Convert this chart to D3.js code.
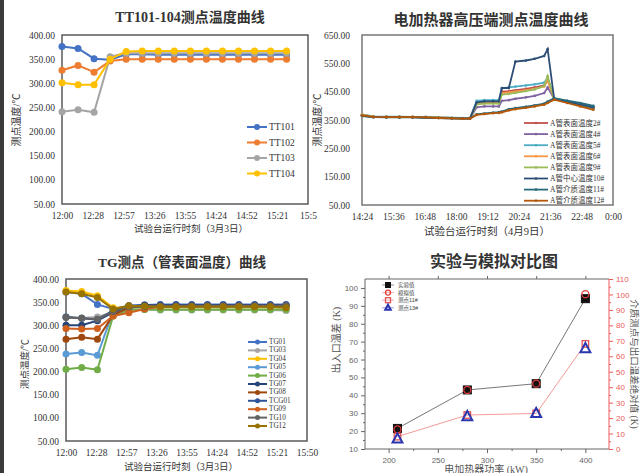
<!DOCTYPE html>
<html>
<head>
<meta charset="utf-8">
<script src="https://cdn.jsdelivr.net/npm/d3@7"></script>
<style>
  body { margin: 0; background: #fff; }
  svg { display: block; }
</style>
</head>
<body>
<svg id="chart" width="642" height="473"></svg>
<script>
// ---------- data ----------
// 3月3日 sampling times (TT and TG panels)
const timesMar3 = ["12:00","12:15","12:30","12:45","13:00","13:15","13:30","13:45","14:00","14:15","14:30","14:45","15:00","15:15","15:30"];
const tickLabelsMar3 = ["12:00","12:28","12:57","13:26","13:55","14:24","14:52","15:21","15:50"];

const ttNames = ["TT101","TT102","TT103","TT104"];
const tt101 = [376,372,351,349,360,360,359,359,359,359,359,359,359,359,359];
const tt102 = [327,337,323,346,350,350,350,350,350,350,350,350,350,350,350];
const tt103 = [241,245,240,355,362,362,362,362,362,362,362,362,362,362,362];
const tt104 = [301,297,297,350,366,367,367,367,367,367,367,367,367,367,367];

const tgNames = ["TG01","TG03","TG04","TG05","TG06","TG07","TG08","TCG01","TG09","TG10","TG12"];
const tg01  = [372,368,345,335,342,344,345,345,345,345,345,345,345,345,345];
const tg03  = [318,316,318,328,334,334,333,333,333,333,333,333,333,333,332];
const tg04  = [375,373,364,338,338,339,339,339,339,339,339,339,339,339,339];
const tg05  = [238,241,235,330,338,340,340,340,340,340,340,340,340,340,340];
const tg06  = [205,209,204,320,333,334,334,334,334,334,334,334,334,334,334];
const tg07  = [300,300,310,328,340,344,344,344,344,344,344,344,344,344,344];
const tg08  = [270,274,270,322,338,342,342,342,342,342,342,342,342,342,342];
const tcg01 = [318,315,312,332,342,343,343,343,343,343,343,343,343,343,343];
const tg09  = [293,292,293,320,327,335,340,340,341,341,341,341,341,341,341];
const tg10  = [317,315,313,330,340,340,341,341,341,341,341,341,341,341,343];
const tg12  = [372,368,360,335,342,341,340,340,340,340,340,340,340,340,338];

// 4月9日 high-voltage end
const timesApr9 = ["14:24","14:50","15:20","15:50","16:20","16:50","17:20","17:50","18:15","18:32","18:47","19:05","19:25","19:38","19:45","20:01","20:16","20:40","21:00","21:22","21:30","21:45","22:15","22:45","23:15"];
const tickLabelsApr9 = ["14:24","15:36","16:48","18:00","19:12","20:24","21:36","22:48","0:00"];
const hvNames = ["A管表面温度2#","A管表面温度4#","A管表面温度5#","A管表面温度6#","A管表面温度9#","A管中心温度10#","A管介质温度11#","A管介质温度12#"];
const hv2  = [368,362,361,361,360,360,358,357,356,356,410,412,412,412,450,452,455,460,465,472,495,425,415,405,395];
const hv4  = [366,361,360,360,360,359,358,357,356,355,395,398,398,398,418,420,425,430,435,445,465,424,414,403,392];
const hv5  = [370,363,362,362,361,361,359,358,357,357,418,420,420,420,462,465,468,472,476,482,498,426,417,407,398];
const hv6  = [369,362,361,361,361,360,358,357,356,356,408,410,410,410,445,447,450,455,460,468,490,424,413,402,390];
const hv9  = [367,362,360,360,360,359,358,357,356,356,405,408,408,408,440,442,446,452,458,470,505,423,412,401,390];
const hv10 = [365,360,360,360,360,358,357,356,356,356,412,416,416,416,463,463,556,560,566,576,600,425,414,404,394];
const hv11 = [364,360,359,359,359,358,357,356,355,355,370,373,376,378,380,388,392,397,402,408,415,427,418,410,400];
const hv12 = [366,361,360,360,360,359,357,356,355,355,368,371,374,375,377,384,388,393,398,404,410,422,410,398,386];

// 实验与模拟对比
const powerKW = [209, 280, 350, 400];
const expDiff = [21.5, 43, 46.5, 94];
const simDiff = [21, 43, 46.5, 96.5];
const pt11Diff = [8, 22, 23, 68];
const pt13Diff = [6.5, 21, 23, 65];
const cmpNames = ["实验值", "模拟值", "测点11#", "测点13#"];

// ---------- drawing ----------
const SERIF = '"Liberation Serif", "Noto Sans CJK SC", serif';
const svg = d3.select("#chart");
const fmt2 = d3.format(".2f");
const toMin = (s) => { const [h, m] = s.split(":").map(Number); return h * 60 + m; };

// scanned-page dark strip at the far left
svg.append("rect").attr("x", 0).attr("y", 0).attr("width", 4).attr("height", 473).attr("fill", "#3a3a3a");

function timePanel(p) {
  const g = svg.append("g");
  const x = d3.scaleLinear().domain(p.xDomain).range([p.left, p.right]);
  const y = d3.scaleLinear().domain(p.yDomain).range([p.bottom, p.top]);

  g.append("rect")
    .attr("x", p.left).attr("y", p.top)
    .attr("width", p.right - p.left).attr("height", p.bottom - p.top)
    .attr("fill", "#fff").attr("stroke", p.frame).attr("stroke-width", 1.5);

  g.append("g")
    .attr("transform", `translate(${p.left},0)`)
    .call(d3.axisLeft(y).tickValues(p.yTicks).tickFormat(fmt2).tickSize(0).tickPadding(p.yPad))
    .call((a) => a.select(".domain").remove())
    .attr("font-family", SERIF).attr("font-size", 9.5)
    .selectAll("text").attr("fill", "#333");

  const n = p.xTickLabels.length;
  const tickPos = p.xTickLabels.map((_, i) => p.xDomain[0] + (i * (p.xDomain[1] - p.xDomain[0])) / (n - 1));
  g.append("g")
    .attr("transform", `translate(0,${p.bottom})`)
    .call(d3.axisBottom(x).tickValues(tickPos).tickFormat((d, i) => p.xTickLabels[i]).tickSize(0).tickPadding(8))
    .call((a) => a.select(".domain").remove())
    .attr("font-family", SERIF).attr("font-size", 9.5)
    .selectAll("text").attr("fill", "#333");

  const line = d3.line().x((d, i) => x(toMin(p.times[i]))).y((d) => y(d));
  p.series.forEach((s) => {
    g.append("path").datum(s.values)
      .attr("d", line).attr("fill", "none")
      .attr("stroke", s.color).attr("stroke-width", p.lineW);
    g.selectAll(null).data(s.values).join("circle")
      .attr("cx", (d, i) => x(toMin(p.times[i])))
      .attr("cy", (d) => y(d))
      .attr("r", p.r).attr("fill", s.color);
  });

  // legend
  const lg = p.legend;
  p.series.forEach((s, i) => {
    const ly = lg.y + i * lg.dy;
    g.append("line").attr("x1", lg.x).attr("x2", lg.x + lg.len).attr("y1", ly).attr("y2", ly)
      .attr("stroke", s.color).attr("stroke-width", p.lineW);
    g.append("circle").attr("cx", lg.x + lg.len / 2).attr("cy", ly).attr("r", lg.r).attr("fill", s.color);
    g.append("text").attr("x", lg.x + lg.len + 2).attr("y", ly)
      .attr("dominant-baseline", "central").attr("font-family", SERIF)
      .attr("font-size", lg.fs).attr("fill", "#333").text(s.name);
  });

  g.append("text").attr("x", p.title.x).attr("y", p.title.y)
    .attr("text-anchor", "middle").attr("dominant-baseline", "central")
    .attr("font-family", SERIF).attr("font-weight", "bold")
    .attr("font-size", p.title.fs).attr("fill", "#333").text(p.title.text);

  g.append("text").attr("transform", `translate(${p.yLabel.x},${p.yLabel.y}) rotate(-90)`)
    .attr("text-anchor", "middle").attr("dominant-baseline", "central")
    .attr("font-family", SERIF).attr("font-size", p.yLabel.fs).attr("fill", "#333").text("测点温度/℃");

  g.append("text").attr("x", p.xLabel.x).attr("y", p.xLabel.y)
    .attr("text-anchor", "middle").attr("dominant-baseline", "central")
    .attr("font-family", SERIF).attr("font-size", p.xLabel.fs).attr("fill", "#333").text(p.xLabel.text);
}

const excel6 = ["#4472c4", "#ed7d31", "#a5a5a5", "#ffc000"];

// Panel 1: TT101-104
timePanel({
  left: 62, right: 308, top: 35, bottom: 204,
  xDomain: [toMin("12:00"), toMin("15:50")],
  xTickLabels: tickLabelsMar3.map((t, i) => (i === 8 ? "15:5" : t)),
  yDomain: [50, 400], yTicks: d3.range(50, 401, 50), yPad: 7,
  times: timesMar3, frame: "#5a5a5a", lineW: 2, r: 3.5,
  series: [tt101, tt102, tt103, tt104].map((v, i) => ({ name: ttNames[i], values: v, color: excel6[i] })),
  legend: { x: 247, y: 127, dy: 15.5, len: 20, r: 3, fs: 9.5 },
  title: { x: 190, y: 17, fs: 14, text: "TT101-104测点温度曲线" },
  yLabel: { x: 16, y: 120, fs: 10 },
  xLabel: { x: 191, y: 229, fs: 9.5, text: "试验台运行时刻（3月3日）" },
});

// Panel 2: 高压端
const hvColors = ["#c0504d", "#8064a2", "#4bacc6", "#f79646", "#9bbb59", "#2c4d75", "#276a7c", "#b65708"];
timePanel({
  left: 362, right: 613, top: 35, bottom: 205,
  xDomain: [toMin("14:24"), toMin("24:00")],
  xTickLabels: tickLabelsApr9,
  yDomain: [50, 650], yTicks: d3.range(50, 651, 100), yPad: 12,
  times: timesApr9, frame: "#777", lineW: 1.8, r: 1.3,
  series: [hv2, hv4, hv5, hv6, hv9, hv10, hv11, hv12].map((v, i) => ({ name: hvNames[i], values: v, color: hvColors[i] })),
  legend: { x: 524, y: 123, dy: 11.1, len: 24, r: 1.3, fs: 7.5 },
  title: { x: 491, y: 20, fs: 15, text: "电加热器高压端测点温度曲线" },
  yLabel: { x: 317, y: 120, fs: 10 },
  xLabel: { x: 487, y: 231, fs: 10.5, text: "试验台运行时刻（4月9日）" },
});

// Panel 3: TG
const tgColors = ["#4472c4", "#a5a5a5", "#ffc000", "#5b9bd5", "#70ad47", "#264478", "#9e480e", "#2f5597", "#d0601e", "#636363", "#997300"];
timePanel({
  left: 66, right: 307, top: 279, bottom: 441,
  xDomain: [toMin("12:00"), toMin("15:50")],
  xTickLabels: tickLabelsMar3,
  yDomain: [50, 400], yTicks: d3.range(50, 401, 50), yPad: 7,
  times: timesMar3, frame: "#5a5a5a", lineW: 2, r: 3.5,
  series: [tg01, tg03, tg04, tg05, tg06, tg07, tg08, tcg01, tg09, tg10, tg12].map((v, i) => ({ name: tgNames[i], values: v, color: tgColors[i] })),
  legend: { x: 248, y: 342, dy: 8.4, len: 19, r: 2.5, fs: 7.2 },
  title: { x: 182, y: 262, fs: 13.5, text: "TG测点（管表面温度）曲线" },
  yLabel: { x: 25, y: 364, fs: 9.5 },
  xLabel: { x: 181, y: 467, fs: 9.5, text: "试验台运行时刻（3月3日）" },
});

// Panel 4: 实验与模拟对比图
{
  const SANS = '"Liberation Sans", "Noto Sans CJK SC", sans-serif';
  const g = svg.append("g");
  const L = 365, R = 609, T = 279, B = 449;
  const x = d3.scaleLinear().domain([176, 424]).range([L, R]);
  const yL = d3.scaleLinear().domain([10, 105]).range([B, T]);
  const yR = d3.scaleLinear().domain([0, 110]).range([B, T]);
  const grey = "#666", red = "#ec5a5a";

  const styleAxis = (a, col) => {
    a.attr("font-family", SANS).attr("font-size", 8);
    a.selectAll("text").attr("fill", col);
    a.selectAll("line").attr("stroke", col);
    a.select(".domain").remove();
  };

  g.append("g").attr("transform", `translate(${L},0)`)
    .call(d3.axisLeft(yL).tickValues(d3.range(10, 101, 10)).tickSize(4).tickPadding(3))
    .call((a) => styleAxis(a, grey));
  g.append("g").attr("transform", `translate(${L},0)`)
    .call(d3.axisLeft(yL).tickValues(d3.range(15, 101, 10)).tickSize(2).tickFormat(""))
    .call((a) => styleAxis(a, grey));
  g.append("g").attr("transform", `translate(0,${B})`)
    .call(d3.axisBottom(x).tickValues(d3.range(200, 401, 50)).tickSize(4).tickPadding(4))
    .call((a) => styleAxis(a, grey));
  g.append("g").attr("transform", `translate(0,${B})`)
    .call(d3.axisBottom(x).tickValues(d3.range(225, 401, 50)).tickSize(2).tickFormat(""))
    .call((a) => styleAxis(a, grey));
  g.append("g").attr("transform", `translate(0,${T})`)
    .call(d3.axisTop(x).tickValues(d3.range(200, 401, 50)).tickSize(3).tickFormat(""))
    .call((a) => styleAxis(a, grey));
  g.append("g").attr("transform", `translate(${R},0)`)
    .call(d3.axisRight(yR).tickValues(d3.range(0, 111, 10)).tickSize(4).tickPadding(3))
    .call((a) => styleAxis(a, red));
  g.append("g").attr("transform", `translate(${R},0)`)
    .call(d3.axisRight(yR).tickValues(d3.range(5, 110, 10)).tickSize(2).tickFormat(""))
    .call((a) => styleAxis(a, red));

  g.append("line").attr("x1", L).attr("x2", L).attr("y1", T).attr("y2", B).attr("stroke", grey);
  g.append("line").attr("x1", L).attr("x2", R).attr("y1", B).attr("y2", B).attr("stroke", grey);
  g.append("line").attr("x1", L).attr("x2", R).attr("y1", T).attr("y2", T).attr("stroke", grey);
  g.append("line").attr("x1", R).attr("x2", R).attr("y1", T).attr("y2", B).attr("stroke", red);

  // connecting lines
  g.append("path").datum(expDiff)
    .attr("d", d3.line().x((d, i) => x(powerKW[i])).y((d) => yL(d)))
    .attr("fill", "none").attr("stroke", "#777").attr("stroke-width", 1);
  g.append("path").datum(pt11Diff)
    .attr("d", d3.line().x((d, i) => x(powerKW[i])).y((d) => yR(d)))
    .attr("fill", "none").attr("stroke", "#f29a9a").attr("stroke-width", 1);

  const square = (sel, size, fill, stroke, sw) =>
    sel.attr("x", -size / 2).attr("y", -size / 2).attr("width", size).attr("height", size)
      .attr("fill", fill).attr("stroke", stroke).attr("stroke-width", sw);
  const tri = (s) => `M0,${-s * 0.62}L${s * 0.55},${s * 0.4}L${-s * 0.55},${s * 0.4}Z`;

  const drawExp = (gg, s) => square(gg.append("rect"), s, "#111", "#111", 1);
  const drawSim = (gg, s) => gg.append("circle").attr("r", s / 2).attr("fill", "none").attr("stroke", "#e03a3a").attr("stroke-width", 1.3);
  const draw11 = (gg, s) => square(gg.append("rect"), s, "none", "#e25555", 1.3);
  const draw13 = (gg, s) => gg.append("path").attr("d", tri(s)).attr("fill", "none").attr("stroke", "#2a35b0").attr("stroke-width", 2);

  powerKW.forEach((p, i) => {
    drawExp(g.append("g").attr("transform", `translate(${x(p)},${yL(expDiff[i])})`), 8);
    drawSim(g.append("g").attr("transform", `translate(${x(p)},${yL(simDiff[i])})`), 7);
    draw11(g.append("g").attr("transform", `translate(${x(p)},${yR(pt11Diff[i])})`), 6.5);
    draw13(g.append("g").attr("transform", `translate(${x(p)},${yR(pt13Diff[i])})`), 9);
  });

  // legend
  const drawers = [drawExp, drawSim, draw11, draw13];
  const lineCols = ["#777", "#f29a9a", "#f29a9a", "#8a90d0"];
  drawers.forEach((fn, i) => {
    const ly = 285 + i * 7.6;
    g.append("line").attr("x1", 382).attr("x2", 394).attr("y1", ly).attr("y2", ly).attr("stroke", lineCols[i]).attr("stroke-width", 0.8);
    fn(g.append("g").attr("transform", `translate(388,${ly})`), 5);
    g.append("text").attr("x", 398).attr("y", ly).attr("dominant-baseline", "central")
      .attr("font-family", SANS).attr("font-size", 5.5).attr("fill", "#444").text(cmpNames[i]);
  });

  g.append("text").attr("x", 494).attr("y", 261).attr("text-anchor", "middle").attr("dominant-baseline", "central")
    .attr("font-family", SERIF).attr("font-weight", "bold").attr("font-size", 16).attr("fill", "#333").text("实验与模拟对比图");
  g.append("text").attr("transform", "translate(336,340) rotate(-90)").attr("text-anchor", "middle").attr("dominant-baseline", "central")
    .attr("font-family", SERIF).attr("font-size", 10).attr("fill", "#555").text("出入口温差 (K)");
  g.append("text").attr("transform", "translate(634,364) rotate(90)").attr("text-anchor", "middle").attr("dominant-baseline", "central")
    .attr("font-family", SERIF).attr("font-size", 9.5).attr("fill", "#555").text("介质测点与出口温差绝对值 (K)");
  g.append("text").attr("x", 486).attr("y", 469).attr("text-anchor", "middle").attr("dominant-baseline", "central")
    .attr("font-family", SERIF).attr("font-size", 10).attr("fill", "#555").text("电加热器功率 (kW)");
}
</script>
</body>
</html>
